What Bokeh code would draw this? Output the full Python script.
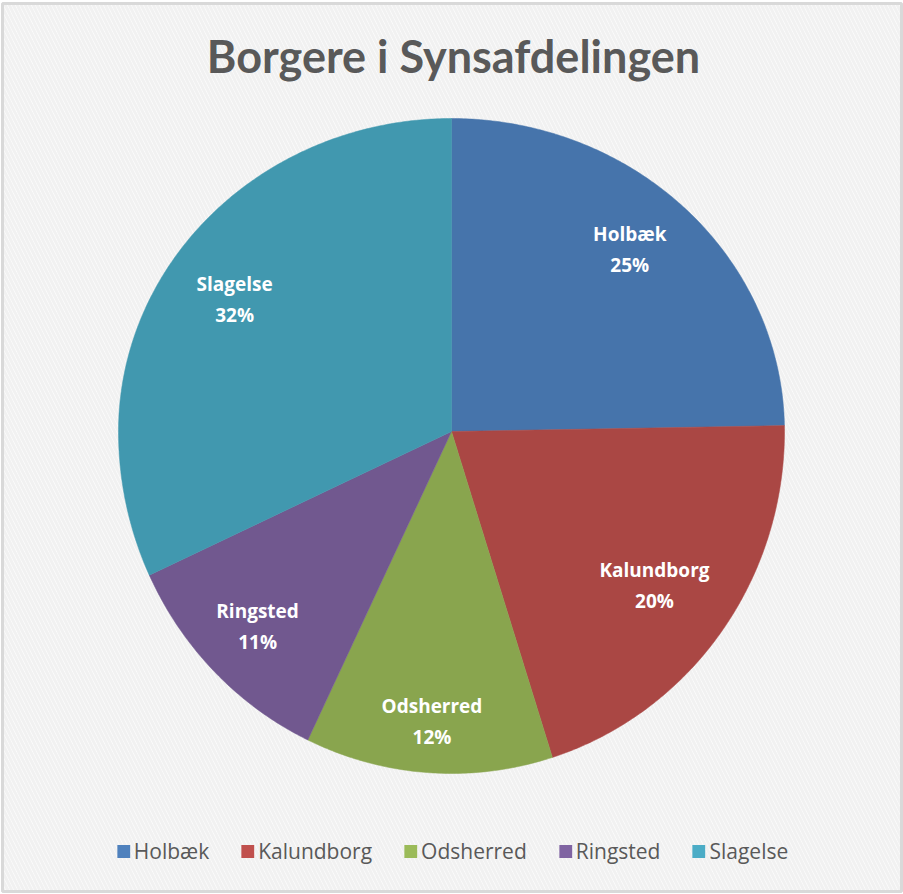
import numpy as np
from bokeh.plotting import figure
from bokeh.models import Range1d, ColumnDataSource, Legend, LegendItem
from bokeh.core.properties import value
from bokeh.embed import file_html
from bokeh.resources import INLINE

# ---- data ----
title_text = "Borgere i Synsafdelingen"
categories = ["Holbæk", "Kalundborg", "Odsherred", "Ringsted", "Slagelse"]
shares = [24.7, 20.4, 12.0, 11.0, 31.9]
slice_colors = ["#4674AB", "#AA4744", "#89A54E", "#71588F", "#4198AF"]
legend_colors = ["#4F81BD", "#C0504D", "#9BBB59", "#8064A2", "#4BACC6"]

# ---- layout ----
W, H = 903, 894
OX, OY = 0, 0
CX, CY = 451, 431
RX, RY_TOP, RY_BOT = 333, 313, 342
label_frac = [0.79, 0.75, 0.85, 0.81, 0.78]
label_shift = [(-6, -6), (0, 4), (0, -1), (-2, 0), (2, -1)]
TEXT_GRAY = "#595959"

p = figure(width=W, height=H, x_range=Range1d(OX, OX + W), y_range=Range1d(OY + H, OY),
           output_backend="svg", toolbar_location=None, min_border=0)
p.axis.visible = False
p.grid.visible = False
p.outline_line_color = None
p.background_fill_color = "white"
p.border_fill_color = "white"

# hatched chart-area background with light border
p.quad(left=[2], right=[901], top=[3], bottom=[891], fill_color="#fdfdfd",
       line_color="#d9d9d9", line_width=3, hatch_pattern="\\", hatch_color="#f1f1f1",
       hatch_weight=3, hatch_scale=8)


def pt(theta, frac=1.0):
    """theta: degrees clockwise from 12 o'clock (screen coords, y down)."""
    t = np.radians(theta)
    ry = np.where(np.cos(t) > 0, RY_TOP, RY_BOT)
    return CX + frac * RX * np.sin(t), CY - frac * ry * np.cos(t)


total = float(sum(shares))
cum = np.concatenate([[0.0], np.cumsum(shares)]) / total * 360.0
xs, ys, lx, ly = [], [], [], []
for i in range(len(shares)):
    a0, a1 = cum[i], cum[i + 1]
    th = np.linspace(a0, a1, max(8, int((a1 - a0) * 2)))
    px, py = pt(th)
    xs.append([CX] + list(px))
    ys.append([CY] + list(py))
    mx, my = pt((a0 + a1) / 2.0, label_frac[i])
    lx.append(float(mx) + label_shift[i][0])
    ly.append(float(my) + label_shift[i][1])

src = ColumnDataSource(dict(xs=xs, ys=ys, color=slice_colors, name=categories))
p.patches("xs", "ys", source=src, fill_color="color", line_color="color", line_width=0.5)

pct = [f"{round(s / total * 100)}%" for s in shares]
p.text(x=lx, y=[v - 15 for v in ly], text=categories, text_align="center",
       text_baseline="middle", text_color="white", text_font=value("Open Sans"),
       text_font_style="bold", text_font_size="19px")
p.text(x=lx, y=[v + 16 for v in ly], text=pct, text_align="center",
       text_baseline="middle", text_color="white", text_font=value("Open Sans"),
       text_font_style="bold", text_font_size="19px")

# title
p.text(x=[453], y=[55], text=[title_text], text_align="center", text_baseline="alphabetic",
       text_color=TEXT_GRAY, text_font=value("Lato"), text_font_style="bold",
       text_font_size="45px")

# legend (swatches use the brighter legend colors)
items = []
for name, c in zip(categories, legend_colors):
    r = p.quad(left=[np.nan], right=[np.nan], top=[np.nan], bottom=[np.nan],
               fill_color=c, line_color=None)
    items.append(LegendItem(label=name, renderers=[r]))
legend = Legend(items=items, orientation="horizontal", location="bottom_center",
                glyph_width=16, glyph_height=16, label_standoff=3, spacing=30,
                padding=0, margin=29, border_line_color=None, background_fill_alpha=0,
                label_text_font="Open Sans", label_text_font_size="21px",
                label_text_color=TEXT_GRAY, label_height=20)
p.add_layout(legend)

open("out.html", "w").write(file_html(p, INLINE))
